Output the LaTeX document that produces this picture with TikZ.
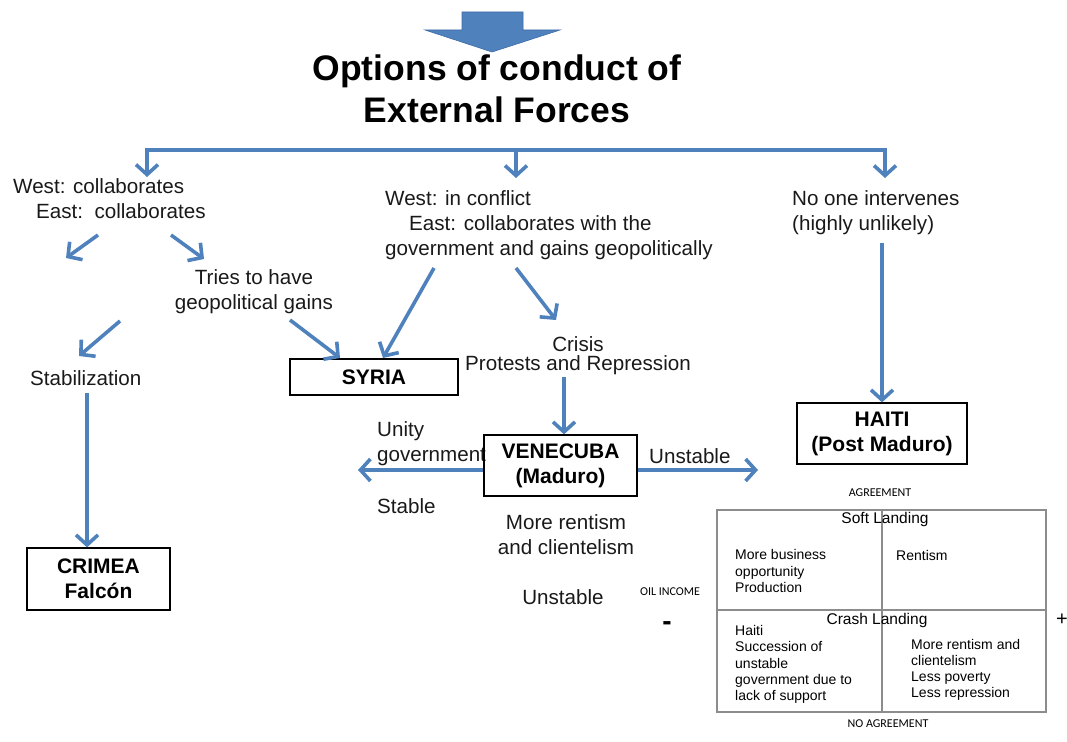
\documentclass[tikz,border=0pt]{standalone}
\usepackage{fontspec}
\setmainfont{Liberation Sans}
\newfontfamily\calib{Carlito}
\usetikzlibrary{arrows.meta}
\definecolor{arrblue}{HTML}{4F81BD}
\definecolor{arrdark}{HTML}{3D6CA8}
\definecolor{qgray}{HTML}{8C8C8C}
\tikzset{
  txt/.style={inner sep=0pt, font=\fontsize{20.6}{25}\selectfont, text=black!90},
  boxnode/.style={draw=black, line width=1.3pt, inner sep=0pt, font=\fontsize{21}{25}\selectfont\bfseries, align=center},
  conn/.style={draw=arrblue, line width=3.6pt},
  arr/.style={conn, -{Straight Barb[length=10pt,width=22pt]}},
  qtxt/.style={inner sep=0pt, font=\fontsize{14}{16.2}\selectfont, align=left, anchor=west},
  small/.style={inner sep=0pt, font=\calib\fontsize{12}{12}\selectfont},
}
\begin{document}
\begin{tikzpicture}[x=1pt,y=-1pt]
\useasboundingbox (0,0) rectangle (1067,741);
% top block arrow
\fill[arrblue, draw=arrdark, line width=0.6pt] (462,12) -- (523,12) -- (523,30) -- (560,30) -- (492,52) -- (425,30) -- (462,30) -- cycle;
\node[inner sep=0pt, font=\fontsize{35.5}{42}\selectfont\bfseries, align=center] (title) at (497,89) {Options of conduct of\\External Forces};

% bus
\coordinate (bL) at (147,150);
\coordinate (bM) at (516,150);
\coordinate (bR) at (885,150);
\draw[conn, line cap=rect] (bL) -- (bR);

% texts
\node[txt, align=left, anchor=west] (wc) at (13,198.5) {West: collaborates\\\hspace*{23pt}East:\ \ collaborates};
\node[txt, align=left, anchor=west] (wic) at (385,225) {West: in conflict\\\hspace*{24pt}East: collaborates with the\\government and gains geopolitically};
\node[txt, align=left, anchor=west] (noone) at (792,213) {No one intervenes\\(highly unlikely)};
\node[txt, align=center] (tries) at (254,291.5) {Tries to have\\geopolitical gains};
\node[txt, anchor=west] (stab) at (30,378) {Stabilization};
\node[txt, align=center, font=\fontsize{20.6}{19.5}\selectfont] (crisis) at (578,355.5) {Crisis\\Protests and Repression};
\node[txt, align=left, anchor=west] (unity) at (377,443.5) {Unity\\government};
\node[txt, anchor=west] (stable) at (377,506) {Stable};
\node[txt, anchor=west] (unst1) at (649,456) {Unstable};
\node[txt, align=center] (morer) at (566,534.5) {More rentism\\and clientelism};
\node[txt] (unst2) at (563,597) {Unstable};

% boxes
\node[boxnode, minimum width=143pt, minimum height=62pt] (crimea) at (98.5,579) {CRIMEA\\Falcón};
\node[boxnode, minimum width=168pt, minimum height=36pt] (syria) at (374,377) {SYRIA};
\node[boxnode, minimum width=153pt, minimum height=61pt] (vene) at (560.5,465.5) {VENECUBA\\(Maduro)};
\node[boxnode, minimum width=170pt, minimum height=61pt] (haiti) at (882,433.5) {HAITI\\(Post Maduro)};

% bus drops
\draw[arr] (bL) -- (147,177);
\draw[arr] (bM) -- (516,178);
\draw[arr] (bR) -- (885,178);

% arrows left branch
\coordinate (a1s) at (98,235); \coordinate (a1e) at (66,258);
\coordinate (a2s) at (171,235); \coordinate (a2e) at (204,259);
\draw[arr] (a1s) -- (a1e);
\draw[arr] (a2s) -- (a2e);
\coordinate (a3s) at (120,321); \coordinate (a3e) at (79,356);
\draw[arr] (a3s) -- (a3e);
\coordinate (a4s) at (290,320);
\draw[arr] (a4s) -- (340,358);
\draw[arr] (87,393) -- (crimea.north -| 87,0);

% middle branch
\draw[arr] (434,268) -- (383,358);
\draw[arr] (516,268) -- (556,320);
\draw[arr] (564,377) -- (vene.north -| 564,0);
\draw[arr] (vene.west |- 0,470) -- (358,470);
\draw[arr] (vene.east |- 0,470) -- (758,470);

% right branch
\draw[arr] (882,243) -- (haiti.north);

% quadrant
\draw[qgray, line width=2.4pt] (717,510) rectangle (1046,712);
\draw[qgray, line width=1.2pt] (882,510) -- (882,712);
\draw[qgray, line width=1.6pt] (717,610) -- (1046,610);
\node[small] (agr) at (880,493) {AGREEMENT};
\node[small] (noagr) at (888,724) {NO AGREEMENT};
\node[small] (oil) at (670,592) {OIL INCOME};
\node[inner sep=0pt, font=\fontsize{28}{28}\selectfont\bfseries] (minus) at (667,626) {-};
\node[inner sep=0pt, font=\fontsize{20}{20}\selectfont] (plus) at (1062,620) {+};
\node[inner sep=0pt, font=\fontsize{15.5}{16}\selectfont] (soft) at (885,519) {Soft Landing};
\node[inner sep=0pt, font=\fontsize{15.5}{16}\selectfont] (crash) at (877,620) {Crash Landing};
\node[qtxt] (q1) at (735,571) {More business\\opportunity\\Production};
\node[qtxt] (q2) at (896,555) {Rentism};
\node[qtxt] (q3) at (735,664.5) {Haiti\\Succession of\\unstable\\government due to\\lack of support};
\node[qtxt] (q4) at (911,670) {More rentism and\\clientelism\\Less poverty\\Less repression};
\end{tikzpicture}
\end{document}
